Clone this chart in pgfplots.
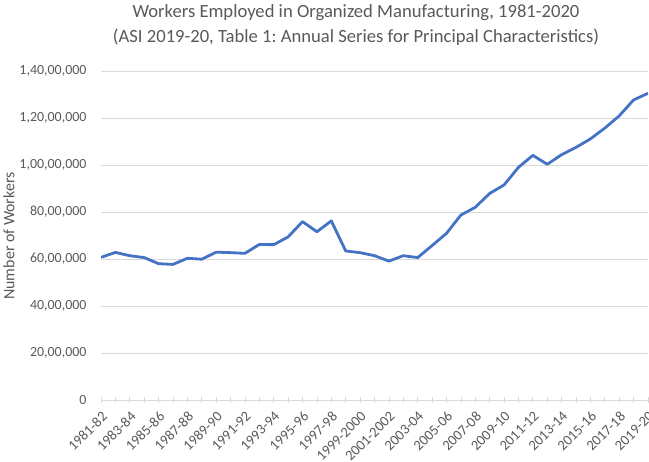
\documentclass[border=0pt]{standalone}
\usepackage{pgfplots}
\pgfplotsset{compat=1.18}
\usepackage{fontspec}
\setmainfont{Carlito}
\frenchspacing
\definecolor{txt}{HTML}{595959}
\definecolor{grd}{HTML}{D9D9D9}
\definecolor{ln}{RGB}{68,114,196}
\begin{document}
\begin{tikzpicture}[x=1bp,y=1bp]
\useasboundingbox (0,0) rectangle (649,462);
\begin{axis}[
  at={(101bp,62bp)}, anchor=south west,
  scale only axis, width=547bp, height=329bp,
  xmin=0, xmax=38, ymin=0, ymax=14000000,
  axis line style={draw=none},
  xtick={0,2,...,38},
  minor xtick={1,3,...,37},
  xticklabels={1981-82,1983-84,1985-86,1987-88,1989-90,1991-92,1993-94,1995-96,1997-98,1999-2000,2001-2002,2003-04,2005-06,2007-08,2009-10,2011-12,2013-14,2015-16,2017-18,2019-20},
  xtick pos=lower, tick align=center,
  major tick length=6bp, minor tick length=6bp,
  x tick style={draw=grd, line width=0.75bp},
  xticklabel style={yshift=-6bp, rotate=45, anchor=north east, font=\fontsize{14.5}{17}\selectfont, text=txt, inner sep=1bp},
  ytick={0,2000000,4000000,6000000,8000000,10000000,12000000,14000000},
  yticklabels={0,{20,00,000},{40,00,000},{60,00,000},{80,00,000},{1,00,00,000},{1,20,00,000},{1,40,00,000}},
  scaled y ticks=false,
  y tick style={draw=none},
  yticklabel style={font=\fontsize{14}{17}\selectfont, text=txt, xshift=-8bp},
  ymajorgrids, major grid style={draw=grd, line width=0.75bp},
]
\addplot[color=ln, line width=2.8bp, no marks, line join=round] table[x=i, y=w] {
i w
0 6070000
1 6280000
2 6140000
3 6060000
4 5800000
5 5770000
6 6030000
7 5990000
8 6290000
9 6270000
10 6240000
11 6620000
12 6610000
13 6940000
14 7590000
15 7160000
16 7620000
17 6340000
18 6270000
19 6140000
20 5910000
21 6140000
22 6060000
23 6570000
24 7090000
25 7870000
26 8200000
27 8790000
28 9150000
29 9900000
30 10410000
31 10030000
32 10440000
33 10750000
34 11110000
35 11570000
36 12090000
37 12770000
38 13050000
};
\end{axis}
\node[text=txt, font=\fontsize{18.7}{22}\selectfont, anchor=center] at (356,449) {Workers Employed in Organized Manufacturing, 1981-2020};
\node[text=txt, font=\fontsize{18.7}{22}\selectfont, anchor=center] at (356,425) {(ASI 2019-20, Table 1: Annual Series for Principal Characteristics)};
\node[text=txt, font=\fontsize{16}{19}\selectfont, rotate=90, anchor=center] at (9,226) {Number of Workers};
\end{tikzpicture}
\end{document}
